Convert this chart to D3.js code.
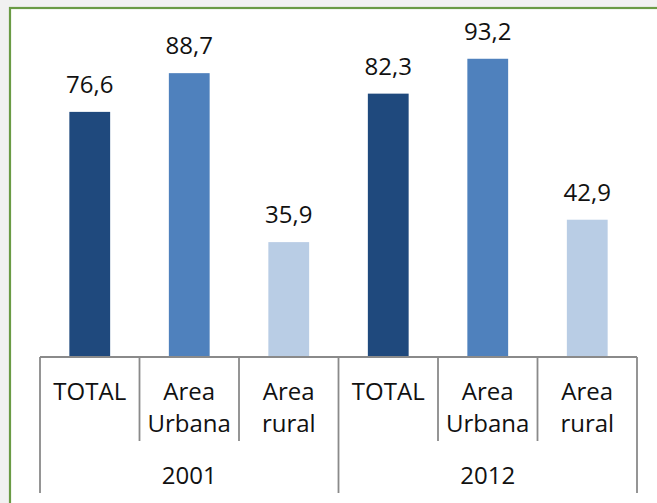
<!DOCTYPE html>
<html>
<head>
<meta charset="utf-8">
<script src="https://cdn.jsdelivr.net/npm/d3@7"></script>
<style>
  html, body { margin: 0; padding: 0; background: #f1f1f1; }
  svg { display: block; }
  text { font-family: "Open Sans", "Noto Sans", sans-serif; fill: #111; }
</style>
</head>
<body>
<div id="chart"></div>
<script>
const years = ['2001', '2012'];
const categories = ['TOTAL', 'Area Urbana', 'Area rural'];
const values2001 = [76.6, 88.7, 35.9];
const values2012 = [82.3, 93.2, 42.9];
const colors = ['#1f497d', '#4f81bd', '#b9cde5'];

const W = 657, H = 503;
const margin = {left: 40, right: 20, top: 37, bottom: 146};
const base = H - margin.bottom; // axis line y

const rows = [];
years.forEach((yr, yi) => {
  const vals = yi === 0 ? values2001 : values2012;
  categories.forEach((c, ci) => rows.push({key: yr + '|' + c, year: yr, cat: c, ci: ci, value: vals[ci]}));
});

const fmt = d3.formatLocale({decimal: ',', thousands: '.', grouping: [3], currency: ['', '']}).format('.1f');

const svg = d3.select('#chart').append('svg').attr('width', W).attr('height', H);

// chart area with the green frame
svg.append('rect').attr('x', 10).attr('y', 8).attr('width', W + 20).attr('height', H + 20)
  .attr('fill', '#fff').attr('stroke', '#6a9b45').attr('stroke-width', 2.2);

const x = d3.scaleBand().domain(rows.map(d => d.key)).range([margin.left, W - margin.right]);
const y = d3.scaleLinear().domain([0, 100]).range([base, margin.top]);

const g = svg.append('g');

g.selectAll('.bar')
  .data(rows)
  .enter().append('rect')
    .attr('class', 'bar')
    .attr('x', d => x(d.key) + x.bandwidth() * 0.295)
    .attr('width', x.bandwidth() * 0.41)
    .attr('y', d => y(d.value))
    .attr('height', d => y(0) - y(d.value))
    .attr('fill', d => colors[d.ci]);

g.selectAll('.val')
  .data(rows)
  .enter().append('text')
    .attr('class', 'val')
    .attr('x', d => x(d.key) + x.bandwidth() / 2)
    .attr('y', d => y(d.value) - 19)
    .attr('text-anchor', 'middle')
    .style('font-size', '24px')
    .text(d => fmt(d.value));

// multi-level category axis
const axisColor = '#8a8a8a';
const ax = svg.append('g');
ax.append('line')
  .attr('x1', x.range()[0]).attr('x2', x.range()[1])
  .attr('y1', base).attr('y2', base)
  .attr('stroke', axisColor).attr('stroke-width', 1.8);

const edges = rows.map(d => x(d.key)).concat([x.range()[1]]);
ax.selectAll('.tick')
  .data(edges)
  .enter().append('line')
    .attr('x1', d => d).attr('x2', d => d)
    .attr('y1', base)
    .attr('y2', (d, i) => (i % categories.length === 0) ? base + 136 : base + 84)
    .attr('stroke', axisColor).attr('stroke-width', 1.8);

const lab = ax.selectAll('.cat')
  .data(rows)
  .enter().append('text')
    .attr('class', 'cat')
    .attr('text-anchor', 'middle')
    .style('font-size', '24px');
lab.each(function(d) {
  const parts = d.cat.split(' ');
  d3.select(this).selectAll('tspan')
    .data(parts)
    .enter().append('tspan')
      .attr('x', x(d.key) + x.bandwidth() / 2)
      .attr('y', (p, i) => base + 43 + i * 32)
      .text(p => p);
});

ax.selectAll('.year')
  .data(years)
  .enter().append('text')
    .attr('class', 'year')
    .attr('text-anchor', 'middle')
    .attr('x', yr => {
      const ks = rows.filter(r => r.year === yr).map(r => x(r.key));
      return (d3.min(ks) + d3.max(ks) + x.bandwidth()) / 2;
    })
    .attr('y', base + 127)
    .style('font-size', '24px')
    .text(yr => yr);
</script>
</body>
</html>
